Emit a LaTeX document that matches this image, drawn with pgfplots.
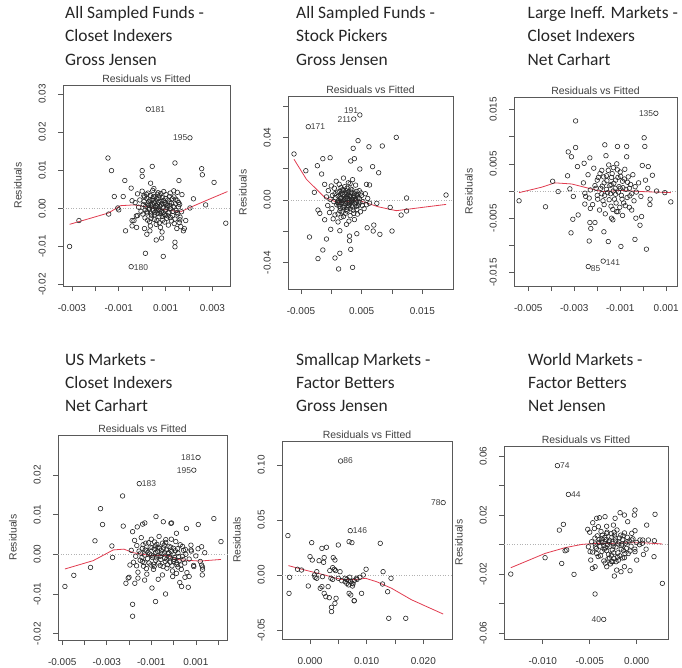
\documentclass[border=0pt]{standalone}
\usepackage{fontspec}
\setmainfont{Liberation Sans}
\newfontfamily\calibri{Carlito}
\usepackage{pgfplots}
\pgfplotsset{compat=1.18}
\definecolor{loess}{RGB}{225,60,80}
\newcommand\tickfont{\fontsize{10}{12}\selectfont}
\newcommand\capfont{\fontsize{10.5}{12}\selectfont}
\newcommand\labfont{\fontsize{8.5}{10}\selectfont}
\newcommand\ttlfont{\calibri\fontsize{17.5}{20}\selectfont}
\pgfplotsset{rplot/.style={
  scale only axis, clip=false, anchor=north west,
  axis line style={black!65, line width=0.7bp},
  tick align=outside, tick pos=left, major tick length=5bp,
  tick style={black!65, line width=0.6bp},
  scaled ticks=false,
  xticklabel style={font=\tickfont, text=black!80, inner sep=0pt, anchor=north},
  yticklabel style={font=\tickfont, text=black!80, inner sep=0pt, rotate=90, anchor=south},
  xticklabel shift=13bp, yticklabel shift=12bp,
  title={Residuals vs Fitted},
  every axis title shift=0pt,
  title style={font=\capfont, text=black!75, at={(0.5,1)}, anchor=base, yshift=3bp, inner sep=0pt},
},
pts/.style={only marks, mark=o, mark size=2.3bp, mark options={black!85, line width=0.6bp}},
lo/.style={color=loess, line width=0.8bp},
zl/.style={gray!60, dotted, line width=0.6bp},
}
\begin{document}
\begin{tikzpicture}
\useasboundingbox (0,0) rectangle (682bp,-668bp);
% titles
\begin{scope}[every node/.style={anchor=base west, font=\ttlfont, text=black!85, inner sep=0pt}]
\node at (65bp,-18.5bp) {All Sampled Funds -};
\node at (65bp,-41.8bp) {Closet Indexers};
\node at (65bp,-65.2bp) {Gross Jensen};
\node at (296bp,-18.5bp) {All Sampled Funds -};
\node at (296bp,-41.8bp) {Stock Pickers};
\node at (296bp,-65.2bp) {Gross Jensen};
\node at (527.5bp,-18.5bp) {Large Ineff. Markets -};
\node at (527.5bp,-41.8bp) {Closet Indexers};
\node at (527.5bp,-65.2bp) {Net Carhart};
\node at (65bp,-365bp) {US Markets -};
\node at (65bp,-388.3bp) {Closet Indexers};
\node at (65bp,-411.7bp) {Net Carhart};
\node at (296bp,-365bp) {Smallcap Markets -};
\node at (296bp,-388.3bp) {Factor Betters};
\node at (296bp,-411.7bp) {Gross Jensen};
\node at (528bp,-365bp) {World Markets -};
\node at (528bp,-388.3bp) {Factor Betters};
\node at (528bp,-411.7bp) {Net Jensen};
\end{scope}
\begin{scope}[every node/.style={rotate=90, font=\capfont, text=black!75}]
\node at (18bp,-185.5bp) {Residuals};
\node at (243bp,-192.5bp) {Residuals};
\node at (469bp,-191.5bp) {Residuals};
\node at (13bp,-537.5bp) {Residuals};
\node at (237bp,-540bp) {Residuals};
\node at (459bp,-542.5bp) {Residuals};
\end{scope}

% ---------- Panel 1
\begin{axis}[rplot, at={(63bp,-85bp)}, width=167bp, height=201bp,
  xmin=-0.00338, xmax=0.00375, ymin=-0.02037, ymax=0.03235,
  xtick={-0.003,-0.002,-0.001,0,0.001,0.002,0.003}, xticklabels={-0.003,,-0.001,,0.001,,0.003},
  ytick={-0.02,-0.01,0,0.01,0.02,0.03}, yticklabels={-0.02,-0.01,0.00,0.01,0.02,0.03}]
\addplot[zl] coordinates {(-0.00338,0) (0.00375,0)};
\addplot[pts] coordinates {(0.00026,0.026) (0.00204,0.0185) (-0.00047,-0.0153) (-0.0031,-0.0100) (-0.0027,-0.0032) (-0.00146,0.0132) (-0.00131,0.0099) (-0.00143,-0.0015) (-0.00119,0.0031) (-0.00104,0.0001) (-0.001,-0.0004) (-0.00074,0.0073) (-0.00081,0.0031) (-0.00071,-0.0059) (-0.00047,0.0053) (-0.00043,0.002) (-0.00043,-0.0032) (-0.00043,-0.0046) (0,0.0099) (0,0.0084) (0.00043,0.011) (0.00036,0.0066) (0.00014,-0.0118) (0.0009,-0.0126) (0.0014,0.0119) (0.00157,0.0073) (0.0017,0.0036) (0.00254,0.0104) (0.00257,0.0088) (0.00307,0.0068) (0.00219,0.0025) (0.00204,0.0001) (0.00271,0.0009) (0.00357,-0.0039) (0.0014,-0.0089) (0.0014,-0.0101) (0.0006,-0.0083) (0.00083,-0.0078) (0.00033,-0.0059) (0.0002,-0.0068) (0.00176,-0.0059) (0.00186,-0.0032) (0.0018,-0.0053) (-0.00024,-0.005) (-0.0002,-0.0019) (0.00007,0.0033)
(-0.0003,0.0015) (-0.0002,0.0038) (-0.0001,0.0022) (-0.00005,-0.0008) (0.0,0.0045) (0.00005,0.001) (0.0001,0.003) (0.00012,-0.0025) (0.00015,0.0005) (0.0002,0.0026) (0.00022,-0.0012) (0.00025,0.004) (0.00028,0.0018) (0.0003,-0.0003) (0.00032,-0.0035) (0.00035,0.0034) (0.00037,0.0009) (0.0004,-0.0018) (0.00042,0.0021) (0.00045,0.0047) (0.00047,-0.0006) (0.0005,0.0014) (0.00052,-0.0029) (0.00055,0.003) (0.00057,0.0002) (0.0006,-0.0042) (0.00062,0.0025) (0.00064,-0.0013) (0.00066,0.0011) (0.00068,0.0041) (0.0007,-0.0002) (0.00072,-0.0022) (0.00074,0.0033) (0.00076,0.0006) (0.00078,-0.005) (0.0008,0.0019) (0.00082,-0.0009) (0.00085,0.0028) (0.00088,-0.0031) (0.0009,0.0003) (0.00092,0.0044) (0.00095,-0.0016) (0.00097,0.0015) (0.001,-0.0004) (0.00102,0.0036) (0.00105,-0.0026) (0.00108,0.0008) (0.0011,0.0022) (0.00112,-0.0044) (0.00115,-0.001) (0.00118,0.0017) (0.0012,0.004) (0.00122,-0.0001) (0.00125,-0.0033) (0.00128,0.0025) (0.0013,-0.0019) (0.00133,0.0005) (0.00136,0.003) (0.0014,-0.0028) (0.00142,0.0012) (0.00145,-0.0006) (0.00148,-0.0053) (0.0015,0.002) (0.00152,-0.0015) (0.00155,0.0004) (0.00158,-0.0037) (0.0016,0.001) (0.00162,-0.0023) (0.00165,-0.0048) (0.00168,-0.0009) (0.0003,0.0001) (0.00045,-0.0002) (0.0006,0.0007) (0.00075,-0.0007) (0.0009,-0.0011) (0.00055,-0.001) (0.0004,0.0006) (0.00065,0.0037) (0.00035,-0.0046) (0.00085,-0.0062) (0.0001,-0.0053) (-0.00025,-0.002) (-0.00035,-0.0032) (-0.00015,0.0003) (0.00135,0.0046) (0.0015,0.0042) (0.0002,-0.0009) (0.0007,0.0016) (0.001,0.001) (0.0011,-0.002) (0.0005,0.0052) (0.0008,0.0039)
(0.00003,-0.0015) (0.00008,0.0018) (0.00013,-0.0004) (0.00018,0.0037) (0.00023,-0.0031) (0.00027,0.0008) (0.00033,0.0022) (0.00038,-0.0026) (0.00043,0.0012) (0.00048,0.0031) (0.00053,-0.0017) (0.00058,0.0017) (0.00063,-0.0032) (0.00067,0.0004) (0.00071,0.0027) (0.00077,-0.0014) (0.00081,0.0009) (0.00086,-0.0021) (0.00091,0.0021) (0.00096,-0.0036) (0.00101,0.0026) (0.00106,0.0002) (0.00111,-0.0012) (0.00116,0.0031) (0.00121,-0.0024) (0.00126,0.0013) (0.00131,-0.0008) (0.00137,-0.004) (0.00143,0.0024) (0.00149,-0.0011) (0.00156,0.0015) (0.00161,-0.003) (0.00035,-0.0012) (0.00062,-0.0005) (0.00088,0.0012) (0.00047,0.0025) (0.00073,-0.0038) (0.00099,-0.0019) (0.00024,0.0011) (0.00119,0.0006)};
\addplot[lo] coordinates {(-0.0031,-0.0042) (-0.00143,-0.0012) (-0.00093,0.0007) (-0.00036,0.0009) (0.0002,0.0004) (0.00079,-0.0002) (0.00164,-0.0009) (0.00207,0.0003) (0.00279,0.0022) (0.00364,0.0044)};
\node[anchor=west, font=\labfont, text=black!75, inner sep=2.5bp] at (axis cs:0.00026,0.026) {181};
\node[anchor=east, font=\labfont, text=black!75, inner sep=2.5bp] at (axis cs:0.00204,0.0185) {195};
\node[anchor=west, font=\labfont, text=black!75, inner sep=2.5bp] at (axis cs:-0.00047,-0.0156) {180};
\end{axis}

% ---------- Panel 2
\begin{axis}[rplot, at={(288bp,-96bp)}, width=165bp, height=193bp,
  xmin=-0.00714, xmax=0.02005, ymin=-0.0568, ymax=0.0664,
  xtick={-0.005,0,0.005,0.01,0.015}, xticklabels={-0.005,,0.005,,0.015},
  ytick={-0.04,-0.02,0,0.02,0.04,0.06}, yticklabels={-0.04,,0.00,,0.04,}]
\addplot[zl] coordinates {(-0.00714,0) (0.02005,0)};
\addplot[pts] coordinates {(0.0047,0.0543) (0.0037,0.0517) (-0.0038,0.0468) (-0.00615,0.0294) (-0.0042,0.0187) (-0.0028,0.0049) (-0.0036,-0.0236) (-0.0023,0.0219) (-0.0014,0.0264) (-0.0002,0.027) (-0.0016,0.0166) (-0.0011,0.01) (-0.0014,-0.0319) (-0.0022,-0.0374) (-0.0008,-0.0249) (-0.0001,-0.0187) (0.0006,-0.037) (0.0014,-0.034) (0.0012,-0.044) (0.0035,-0.043) (0.0032,-0.0315) (0.003,-0.026) (0.003,-0.023) (0.0014,-0.0196) (0.0042,-0.0215) (0.0036,0.033) (0.0044,0.0379) (0.0062,0.034) (0.0084,0.0345) (0.0032,0.0249) (0.0038,0.0264) (0.0047,0.0198) (0.0068,0.0213) (0.0078,0.0174) (0.0058,0.01) (0.0063,0.0096) (0.0107,0.04) (0.0097,-0.0047) (0.01,-0.0198) (0.0115,-0.0096) (0.0124,0.0013) (0.0124,-0.007) (0.0189,0.0032) (0.007,-0.016) (0.008,-0.0219) (0.0069,-0.0198) (0.0059,-0.0177) (0.0075,-0.0021) (0.0011,-0.0089) (0.0013,-0.0015) (-0.0019,-0.0085) (-0.0011,-0.0126) (-0.0022,-0.0064)
(-0.0008,0.002) (-0.0006,-0.0035) (-0.0005,0.006) (-0.0003,-0.008) (-0.0002,0.0005) (0.0,0.009) (0.0001,-0.0055) (0.0002,0.003) (0.0003,-0.012) (0.0004,-0.001) (0.0005,0.0075) (0.0006,-0.0095) (0.0007,0.0015) (0.0008,0.012) (0.0009,-0.003) (0.001,0.005) (0.0011,-0.014) (0.0012,-0.0005) (0.0013,0.01) (0.0014,-0.007) (0.0015,0.0035) (0.0016,-0.011) (0.0017,0.0) (0.0018,0.0065) (0.0019,-0.0045) (0.002,0.014) (0.0021,-0.002) (0.0022,0.0085) (0.0023,-0.0085) (0.0024,0.001) (0.0025,-0.0155) (0.0026,0.0045) (0.0027,-0.005) (0.0028,0.011) (0.0029,-0.0015) (0.003,0.0025) (0.0031,-0.01) (0.0032,0.007) (0.0033,-0.0035) (0.0034,0.0005) (0.0035,0.013) (0.0036,-0.0065) (0.0037,0.003) (0.0038,-0.0125) (0.0039,-0.0005) (0.004,0.0095) (0.0041,-0.004) (0.0042,0.0055) (0.0043,-0.009) (0.0044,0.0015) (0.0045,-0.0025) (0.0046,0.006) (0.0048,-0.0075) (0.005,0.003) (0.0052,-0.001) (0.0054,-0.0055) (0.0056,0.004) (0.0058,-0.003) (0.006,0.001) (0.0063,-0.002) (0.001,-0.0015) (0.0015,0.001) (0.002,-0.0005) (0.0025,0.002) (0.003,-0.0025) (0.0035,0.0) (0.0022,-0.0035) (0.0028,0.0035) (0.0018,0.0045) (0.0033,0.005) (0.0026,-0.007) (0.0013,-0.004) (0.0038,0.002) (0.0006,0.004) (0.0041,-0.0015) (0.002,-0.0105) (0.0029,-0.0135) (0.0016,0.008) (0.0031,0.0105) (0.0024,0.006)
(0.0011,0.0025) (0.0012,-0.0025) (0.0014,0.0055) (0.0015,-0.0055) (0.0016,0.0015) (0.0017,-0.0015) (0.0018,-0.0075) (0.0019,0.0035) (0.002,0.0065) (0.0021,-0.0045) (0.0022,0.0005) (0.0023,0.0045) (0.0024,-0.0025) (0.0025,-0.006) (0.0026,0.0075) (0.0027,0.001) (0.0028,-0.0035) (0.0029,0.0055) (0.003,-0.0005) (0.0031,-0.0055) (0.0032,0.0025) (0.0033,-0.0015) (0.0034,0.0065) (0.0035,-0.0045) (0.0036,0.0015) (0.0037,-0.0085) (0.0038,0.0045) (0.0039,-0.0025) (0.004,0.0005) (0.0041,0.0035) (0.0042,-0.006) (0.0043,0.0025) (0.0044,-0.0035) (0.0046,0.001) (0.0047,-0.0015) (0.0049,0.0045) (0.0051,-0.0035) (0.0019,-0.0005) (0.0027,0.0025) (0.0033,-0.0005)};
\addplot[lo] coordinates {(-0.00615,0.026) (-0.0041,0.0132) (-0.0011,0.0017) (0.0011,-0.0017) (0.0044,0.0) (0.0077,-0.0043) (0.0107,-0.0068) (0.0189,-0.0028)};
\node[anchor=west, font=\labfont, text=black!75, inner sep=2.5bp] at (axis cs:-0.0038,0.0468) {171};
\node[anchor=east, font=\labfont, text=black!75, inner sep=2.5bp] at (axis cs:0.0037,0.0512) {211};
\node[anchor=south east, font=\labfont, text=black!75, inner sep=1.5bp] at (axis cs:0.0047,0.0543) {191};
\end{axis}

% ---------- Panel 3
\begin{axis}[rplot, at={(514bp,-97bp)}, width=163bp, height=189bp,
  xmin=-0.00562, xmax=0.00147, ymin=-0.01748, ymax=0.0173,
  xtick={-0.005,-0.004,-0.003,-0.002,-0.001,0,0.001}, xticklabels={-0.005,,-0.003,,-0.001,,0.001},
  ytick={-0.015,-0.01,-0.005,0,0.005,0.01,0.015}, yticklabels={-0.015,,-0.005,,0.005,,0.015}]
\addplot[zl] coordinates {(-0.00562,0) (0.00147,0)};
\addplot[pts] coordinates {(0.00055,0.0143) (-0.00174,-0.0129) (-0.00239,-0.0139) (-0.00294,0.0129) (-0.0054,-0.0018) (-0.00425,-0.0029) (-0.00394,0.0018) (-0.0037,-0.0001) (-0.00326,0.0072) (-0.00312,0.0063) (-0.00294,0.008) (-0.00329,0.0028) (-0.00319,0.0004) (-0.00304,-0.001) (-0.00306,-0.0052) (-0.00314,-0.0077) (-0.00283,-0.0044) (-0.00286,0.0045) (-0.00257,0.0051) (-0.00232,0.0061) (-0.00254,-0.0024) (-0.00235,-0.0013) (-0.00254,-0.0004) (-0.00232,-0.0058) (-0.00228,-0.0069) (-0.00235,-0.0092) (-0.0021,-0.0058) (-0.00167,0.0085) (-0.00162,0.0065) (-0.00112,0.0082) (-0.00072,0.0082) (-0.00072,0.0063) (-0.00171,-0.0075) (-0.00152,-0.0093) (-0.00097,-0.0102) (-0.00036,-0.0089) (0.00004,0.0098) (0.00007,0.0082) (-0.00004,0.0047) (0.00022,0.0045) (0.0004,0.0029) (0.00058,0) (0.00094,-0.0003) (0.0012,-0.002) (0.00029,-0.0025) (0.00014,-0.0107) (-0.00014,-0.0063) (-0.0005,-0.0035) (-0.00032,-0.005) (-0.00007,-0.0047) (-0.00138,-0.005) (-0.00132,-0.0053) (-0.00116,-0.0038)
(-0.0026,0.0015) (-0.0025,-0.001) (-0.0024,0.003) (-0.0023,0.0002) (-0.0022,-0.0025) (-0.00215,0.0042) (-0.0021,0.001) (-0.002,-0.0008) (-0.00195,0.0025) (-0.0019,-0.0035) (-0.00185,0.0005) (-0.0018,0.0038) (-0.00175,-0.0018) (-0.0017,0.0015) (-0.00165,-0.0042) (-0.0016,0.0028) (-0.00155,-0.0003) (-0.0015,0.0048) (-0.00145,0.001) (-0.0014,-0.0028) (-0.00135,0.0032) (-0.0013,0.0) (-0.00125,-0.0015) (-0.0012,0.002) (-0.00115,0.005) (-0.0011,-0.0038) (-0.00105,0.0008) (-0.001,0.0035) (-0.00095,-0.0008) (-0.0009,0.0018) (-0.00085,-0.0022) (-0.0008,0.004) (-0.00075,0.0003) (-0.0007,-0.0012) (-0.00065,0.0026) (-0.0006,-0.003) (-0.00055,0.0012) (-0.0005,-0.0005) (-0.00045,0.003) (-0.0004,-0.0018) (-0.00035,0.0008) (-0.0003,-0.0002) (-0.0016,0.0003) (-0.0014,0.0012) (-0.0012,-0.0006) (-0.001,0.0005) (-0.0018,-0.0005) (-0.002,0.002) (-0.0013,0.0043) (-0.0009,-0.0045) (-0.0017,-0.0025) (-0.0011,0.0025) (-0.0006,0.0005) (-0.0023,-0.0032) (-0.0002,0.0015) (-0.0001,-0.001) (0.0001,0.002) (0.0003,-0.0015) (0.0002,0.0005)
(-0.00205,0.0005) (-0.00198,-0.0015) (-0.00188,0.0032) (-0.00178,0.0009) (-0.00168,-0.0008) (-0.00158,0.0019) (-0.00148,-0.0016) (-0.00138,0.0025) (-0.00128,0.0014) (-0.00118,-0.0022) (-0.00108,-0.0002) (-0.00098,0.0027) (-0.00088,0.0006) (-0.00078,-0.0027) (-0.00068,0.0016) (-0.00058,-0.0009) (-0.00152,0.0038) (-0.00132,-0.0034) (-0.00112,0.0039) (-0.00092,-0.0015) (-0.00172,0.0026) (-0.00142,-0.0005) (-0.00122,0.0005) (-0.00102,-0.003) (-0.00082,0.0022)};
\addplot[lo] coordinates {(-0.0054,-0.0003) (-0.00442,0.0007) (-0.00384,0.0015) (-0.00312,0.0013) (-0.00246,0.0006) (-0.00181,-0.0001) (-0.00094,0.0001) (-0.00007,-0.0001) (0.0012,-0.0003)};
\node[anchor=east, font=\labfont, text=black!75, inner sep=2.5bp] at (axis cs:0.00055,0.0143) {135};
\node[anchor=west, font=\labfont, text=black!75, inner sep=2.5bp] at (axis cs:-0.00174,-0.0131) {141};
\node[anchor=west, font=\labfont, text=black!75, inner sep=2.5bp] at (axis cs:-0.00239,-0.0143) {85};
\end{axis}

% ---------- Panel 4
\begin{axis}[rplot, at={(58bp,-435bp)}, width=169bp, height=205bp,
  xmin=-0.00519, xmax=0.0024, ymin=-0.02159, ymax=0.03005,
  xtick={-0.005,-0.004,-0.003,-0.002,-0.001,0,0.001,0.002}, xticklabels={-0.005,,-0.003,,-0.001,,0.001,},
  ytick={-0.02,-0.01,0,0.01,0.02}, yticklabels={-0.02,-0.01,0.00,0.01,0.02}]
\addplot[zl] coordinates {(-0.00519,0) (0.0024,0)};
\addplot[pts] coordinates {(0.0011,0.0244) (0.00091,0.0212) (-0.00154,0.0178) (-0.00229,0.0147) (-0.00328,0.0115) (-0.00319,0.0075) (-0.00353,0.0034) (-0.00277,0.0021) (-0.00274,-0.0008) (-0.00373,-0.0033) (-0.00448,-0.0053) (-0.00488,-0.0081) (-0.00214,-0.0073) (-0.00184,-0.0126) (-0.00184,-0.0156) (-0.00174,-0.0073) (-0.00226,0.0071) (-0.00184,0.0057) (-0.00163,0.0069) (-0.00139,0.0076) (-0.00129,0.0079) (-0.00079,0.0095) (-0.00097,-0.0085) (-0.00081,-0.0119) (-0.00036,-0.01) (-0.00069,-0.0063) (-0.00046,0.0082) (-0.00012,0.0078) (-0.00009,0.0079) (0.00013,0.0053) (0.00058,0.0065) (0.00111,0.0075) (0.00181,0.009) (0.00213,0.0032) (0.00126,0.0019) (0.00126,-0.0027) (0.00129,-0.0052) (0.0013,-0.0038) (0.00078,0.0023) (0.00078,0.0011) (0.0007,-0.0056) (0.00066,-0.0083) (0.00036,-0.0081) (0.00028,-0.0071) (0.00051,-0.0058) (0.00091,-0.0031) (0.00013,-0.0048) (-0.00004,-0.0056) (-0.00196,-0.0027) (-0.00166,-0.0029) (-0.00204,-0.006) (-0.002,-0.0058)
(-0.0019,0.001) (-0.0018,-0.002) (-0.00175,0.0035) (-0.0017,-0.0005) (-0.00165,0.0022) (-0.0016,-0.0045) (-0.00155,0.0008) (-0.0015,-0.0015) (-0.00145,0.0042) (-0.0014,0.0015) (-0.00135,-0.003) (-0.0013,-0.0002) (-0.00125,0.0028) (-0.0012,-0.005) (-0.00115,0.0005) (-0.0011,-0.0022) (-0.00105,0.0018) (-0.001,0.0038) (-0.00095,-0.0008) (-0.0009,-0.0038) (-0.00085,0.0012) (-0.0008,-0.0015) (-0.00075,0.0025) (-0.0007,-0.0003) (-0.00065,0.0045) (-0.0006,-0.0028) (-0.00055,0.0009) (-0.0005,-0.0052) (-0.00045,0.0016) (-0.0004,-0.001) (-0.00035,0.003) (-0.0003,-0.0035) (-0.00025,0.0002) (-0.0002,0.002) (-0.00015,-0.002) (-0.0001,0.0007) (-0.00005,-0.0042) (0.0,0.0015) (0.00005,-0.0008) (0.0001,0.0032) (0.00015,-0.0026) (0.0002,0.0003) (0.00025,-0.0016) (0.0003,0.0024) (0.00035,-0.0038) (0.0004,-0.0005) (0.00045,0.001) (0.0005,-0.0022) (0.00055,0.0) (0.0006,-0.0046) (0.0007,-0.0012) (0.0008,0.0008) (0.0009,-0.0028) (0.001,-0.0004) (0.0011,0.0014) (0.0012,-0.0018) (0.0013,-0.0032) (0.0014,0.0004) (-0.0008,0.0005) (-0.0006,-0.0005) (-0.0004,0.0004) (-0.0002,-0.0006) (-0.001,-0.0002) (-0.0007,0.0018) (-0.0003,-0.0012) (-0.0012,0.0009) (0.0,-0.0018) (-0.0005,0.0028) (-0.0009,-0.0025) (0.0002,-0.0032) (-0.0014,-0.0018) (-0.0001,0.0038) (0.0004,0.002) (-0.0016,-0.006) (-0.0013,-0.0065)
(-0.00148,0.0003) (-0.00142,-0.0008) (-0.00137,0.0024) (-0.00132,-0.0021) (-0.00127,0.0011) (-0.00122,-0.0036) (-0.00117,-0.0011) (-0.00112,0.0029) (-0.00107,0.0001) (-0.00102,-0.0027) (-0.00097,0.0017) (-0.00092,-0.0004) (-0.00087,-0.0031) (-0.00082,0.0021) (-0.00077,-0.0009) (-0.00072,0.0008) (-0.00067,-0.0022) (-0.00062,0.0015) (-0.00057,-0.0013) (-0.00052,0.0002) (-0.00047,-0.0031) (-0.00042,0.0023) (-0.00037,-0.0018) (-0.00032,0.0011) (-0.00027,-0.0026) (-0.00022,0.0004) (-0.00017,-0.0009) (-0.00012,0.0018) (-0.00007,-0.0029) (-0.00002,0.0001) (0.00003,-0.0013) (0.00008,0.0009) (0.00013,-0.0021) (0.00018,0.0014) (0.00023,-0.0006) (0.00033,-0.0027) (0.00043,-0.0013) (0.00053,0.0012) (-0.00085,0.0031) (-0.00035,0.0037)};
\addplot[lo] coordinates {(-0.00488,-0.0037) (-0.00361,-0.0016) (-0.00271,0.0011) (-0.00223,0.0013) (-0.00181,0.0004) (-0.00106,-0.0003) (-0.00031,-0.0003) (0.00028,-0.0014) (0.00118,-0.0017) (0.00213,-0.0013)};
\node[anchor=east, font=\labfont, text=black!75, inner sep=2.5bp] at (axis cs:0.0011,0.0244) {181};
\node[anchor=east, font=\labfont, text=black!75, inner sep=2.5bp] at (axis cs:0.00091,0.0212) {195};
\node[anchor=west, font=\labfont, text=black!75, inner sep=2.5bp] at (axis cs:-0.00154,0.0178) {183};
\end{axis}

% ---------- Panel 5
\begin{axis}[rplot, at={(282bp,-441bp)}, width=170bp, height=198bp,
  xmin=-0.00494, xmax=0.02506, ymin=-0.0582, ymax=0.1218,
  xtick={0,0.005,0.01,0.015,0.02}, xticklabels={0.000,,0.010,,0.020},
  ytick={-0.05,0,0.05,0.1}, yticklabels={-0.05,0.00,0.05,0.10}]
\addplot[zl] coordinates {(-0.00494,0) (0.02506,0)};
\addplot[pts] coordinates {(0.0054,0.1036) (0.0235,0.0658) (0.0071,0.0403) (-0.0039,0.0358) (-0.0036,-0.0021) (-0.0037,-0.0167) (-0.0022,0.0052) (-0.0015,0.0045) (-0.0003,-0.01) (0.0003,0.0294) (0.0,0.0167) (0.0004,0.0136) (0.0008,0.0) (0.0009,-0.0021) (0.0012,-0.003) (0.0021,0.0242) (0.0029,0.0252) (0.0016,0.013) (0.0025,0.0158) (0.0024,0.0115) (0.0022,-0.0015) (0.0018,-0.0121) (0.0021,-0.0106) (0.0025,-0.0167) (0.0028,-0.0197) (0.0034,-0.0206) (0.0032,-0.0106) (0.0037,-0.003) (0.0041,0.0158) (0.0044,0.0136) (0.005,0.0273) (0.0038,-0.0294) (0.0038,-0.0333) (0.0044,-0.0258) (0.0046,-0.0212) (0.004,0.0067) (0.0043,0.0052) (0.0053,0.003) (0.0062,-0.003) (0.0068,-0.0052) (0.0069,0.0303) (0.0074,0.0294) (0.0069,-0.0167) (0.0072,-0.0182) (0.0078,-0.0233) (0.0075,-0.01) (0.0074,-0.0076) (0.0082,-0.003) (0.0088,-0.0021) (0.0091,-0.0167) (0.0094,0.0) (0.0099,0.0052) (0.0124,0.0288) (0.0129,0.003) (0.0128,-0.0082) (0.0137,-0.0152) (0.0143,-0.003) (0.0139,-0.0394) (0.0169,-0.0394) (0.0056,-0.0052) (0.0062,-0.0061) (0.0065,-0.0076) (0.005,-0.003) (0.0065,-0.004) (0.0072,-0.006) (0.0068,-0.009) (0.0076,-0.008) (0.007,-0.002) (0.0078,-0.005) (0.0083,-0.004) (0.0045,0.004) (0.004,-0.004) (0.0012,0.003) (0.0035,0.004) (0.0078,-0.0235)};
\addplot[lo] coordinates {(-0.0038,0.0085) (-0.0009,0.0045) (0.0026,0.0) (0.0045,-0.0028) (0.0058,-0.0042) (0.0079,-0.0042) (0.0098,-0.0030) (0.0118,-0.0062) (0.0144,-0.0121) (0.0179,-0.0225) (0.0235,-0.0355)};
\node[anchor=west, font=\labfont, text=black!75, inner sep=2.5bp] at (axis cs:0.0054,0.1036) {86};
\node[anchor=east, font=\labfont, text=black!75, inner sep=2.5bp] at (axis cs:0.0235,0.0658) {78};
\node[anchor=west, font=\labfont, text=black!75, inner sep=2.5bp] at (axis cs:0.0071,0.0403) {146};
\end{axis}

% ---------- Panel 6
\begin{axis}[rplot, at={(504bp,-446bp)}, width=164bp, height=193bp,
  xmin=-0.01412, xmax=0.00333, ymin=-0.0639, ymax=0.0669,
  xtick={-0.01,-0.005,0}, xticklabels={-0.010,-0.005,0.000},
  ytick={-0.06,-0.04,-0.02,0,0.02,0.04,0.06}, yticklabels={-0.06,,-0.02,,0.02,,0.06}]
\addplot[zl] coordinates {(-0.01412,0) (0.00333,0)};
\addplot[pts] coordinates {(-0.00844,0.0536) (-0.00727,0.0341) (-0.00351,-0.0506) (-0.0134,-0.0199) (-0.00975,-0.0088) (-0.00798,-0.0127) (-0.00667,-0.0201) (-0.0078,0.0138) (-0.00823,0.0099) (-0.00745,-0.0036) (-0.00762,-0.0041) (-0.00443,-0.0334) (-0.00521,0.0104) (-0.00514,-0.0014) (-0.00496,-0.0047) (-0.00489,-0.0104) (-0.00472,-0.016) (-0.00443,-0.0149) (-0.00468,0.0149) (-0.00426,0.0179) (-0.00397,0.0183) (-0.00337,0.019) (-0.00408,0.0122) (-0.00319,0.0077) (-0.00248,0.0133) (-0.0023,0.0179) (-0.00177,0.0217) (-0.00131,0.0201) (-0.00096,0.0156) (-0.00018,0.0235) (-0.00025,0.0201) (-0.00053,0.0077) (-0.00018,0.0095) (0.00106,0.0133) (0.00195,0.0206) (0.00188,0.0027) (0.00124,0.0032) (0.00064,0.0032) (0.00071,-0.0066) (0.00184,-0.0081) (0.00273,-0.0262) (0,-0.0104) (-0.00071,-0.0176) (-0.00131,-0.0149) (-0.00167,-0.0183) (-0.00238,-0.0212) (-0.00319,-0.0149) (-0.00213,-0.0172) (-0.00266,-0.0115) (-0.00131,-0.0088) (-0.00071,-0.0043) (-0.00018,-0.0047) (0.00035,0.0032) (-0.00053,0.0032)
(-0.005,0.0085) (-0.0048,0.002) (-0.0047,-0.005) (-0.0045,0.011) (-0.0044,0.0005) (-0.0043,-0.0025) (-0.0042,0.006) (-0.0041,-0.008) (-0.004,0.0035) (-0.0039,-0.001) (-0.0038,0.009) (-0.0037,-0.0045) (-0.0036,0.0015) (-0.0035,-0.011) (-0.0034,0.005) (-0.0033,-0.002) (-0.0032,0.0125) (-0.0031,0.0) (-0.003,-0.0065) (-0.0029,0.003) (-0.0028,-0.013) (-0.0027,0.0075) (-0.0026,-0.0035) (-0.0025,0.001) (-0.0024,-0.0095) (-0.0023,0.0045) (-0.0022,-0.0015) (-0.0021,0.01) (-0.002,-0.0055) (-0.0019,0.002) (-0.0018,-0.0075) (-0.0017,0.0065) (-0.0016,-0.0005) (-0.0015,0.0035) (-0.0014,-0.004) (-0.0013,0.008) (-0.0012,0.001) (-0.0011,-0.0025) (-0.001,0.005) (-0.0009,-0.006) (-0.0008,0.0025) (-0.0006,-0.001) (-0.0004,0.004) (-0.0002,-0.003) (0.0,0.0015) (-0.0035,-0.0005) (-0.003,0.002) (-0.0025,-0.001) (-0.002,0.0005) (-0.0032,-0.004) (-0.0027,-0.007) (-0.0022,-0.0115) (-0.0044,-0.0015) (-0.0015,-0.009) (-0.0029,-0.009) (-0.0037,0.004) (-0.0024,0.0085) (0.0003,0.0) (0.0006,0.001) (0.001,-0.003)
(-0.00445,0.0045) (-0.00425,-0.006) (-0.00405,0.0015) (-0.00385,-0.0075) (-0.00365,0.0065) (-0.00345,-0.003) (-0.00325,0.0035) (-0.00305,-0.0095) (-0.00285,-0.001) (-0.00265,0.005) (-0.00245,-0.0055) (-0.00225,0.0025) (-0.00205,-0.0085) (-0.00185,0.0045) (-0.00165,-0.003) (-0.00145,0.006) (-0.00125,-0.006) (-0.00105,0.002) (-0.00335,-0.0125) (-0.00255,-0.0115) (-0.00315,0.0085) (-0.00195,-0.0105) (-0.00375,0.0025) (-0.00235,0.0065) (-0.00155,0.0005)};
\addplot[lo] coordinates {(-0.0134,-0.0156) (-0.00975,-0.0059) (-0.00762,-0.002) (-0.00585,0.0002) (-0.00443,0.0009) (-0.00266,0.0009) (-0.00089,0.0014) (0.00053,0.0014) (0.00273,0.0005)};
\node[anchor=west, font=\labfont, text=black!75, inner sep=2.5bp] at (axis cs:-0.00844,0.0536) {74};
\node[anchor=west, font=\labfont, text=black!75, inner sep=2.5bp] at (axis cs:-0.00727,0.0341) {44};
\node[anchor=east, font=\labfont, text=black!75, inner sep=2.5bp] at (axis cs:-0.00351,-0.0506) {40};
\end{axis}
\end{tikzpicture}
\end{document}
